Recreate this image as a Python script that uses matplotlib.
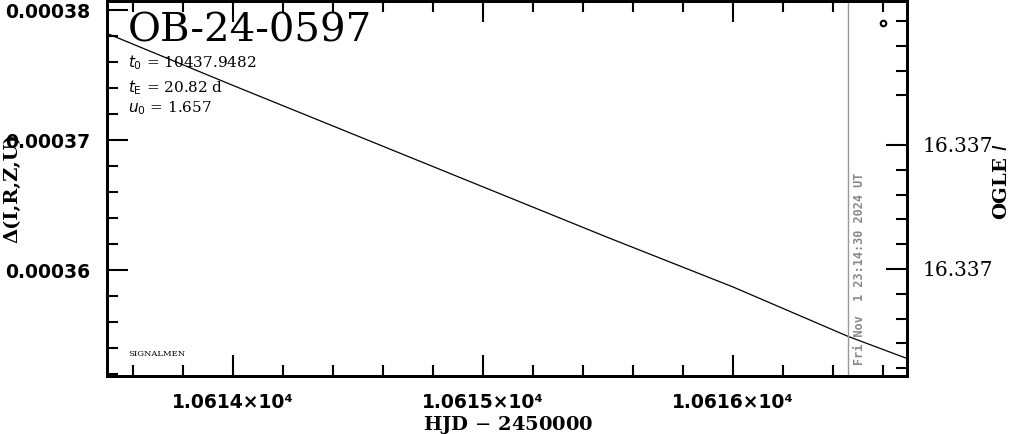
import matplotlib
matplotlib.use("Agg")
import matplotlib.pyplot as plt

# model curve (HJD-2450000, delta flux)
hjd = [10613.496, 10614.0, 10614.5, 10615.0, 10615.5, 10616.0, 10616.46, 10616.696]
dflux = [0.0003782, 0.0003742, 0.0003703, 0.0003664, 0.0003625, 0.0003587, 0.0003549, 0.0003532]

# the single data point
pt_hjd = [10616.6]
pt_flux = [0.000379]

now_hjd = 10616.46
now_label = "Fri Nov  1 23:14:30 2024 UT"

xticks = [10614, 10615, 10616]
xtick_labels = ["1.0614×10⁴", "1.0615×10⁴", "1.0616×10⁴"]
yticks = [0.00036, 0.00037, 0.00038]
ytick_labels = ["0.00036", "0.00037", "0.00038"]

# right magnitude axis
mag_ticks = [16.3370, 16.3371]
mag_labels = ["16.337", "16.337"]
mag_minor = [16.33690, 16.33692, 16.33694, 16.33696, 16.33700, 16.33702, 16.33704,
             16.33706, 16.33708, 16.33710, 16.33712, 16.33714, 16.33716, 16.33718]

event = "OB-24-0597"
params = [r"$t_0$ = 10437.9482", r"$t_{\rm E}$ = 20.82 d", r"$u_0$ = 1.657"]
param_y = [0.835, 0.770, 0.715]

serif = "DejaVu Serif"
tickfont = dict(family="DejaVu Sans", weight="bold", size=13.5)

fig = plt.figure(figsize=(10.11, 4.34), dpi=100)
ax = fig.add_axes([0.1058, 0.1336, 0.7913, 0.864])

ax.plot(hjd, dflux, color="black", lw=0.9)
ax.plot(pt_hjd, pt_flux, "o", mfc="none", mec="black", ms=4, mew=1.5)
ax.axvline(now_hjd, color="#999999", lw=1)
ax.text(now_hjd + 0.02, 0.00035269, now_label, rotation=90, ha="left", va="bottom",
        color="#888888", fontsize=8.5, fontweight="bold", family="DejaVu Sans Mono")

ax.set_xlim(10613.496, 10616.696)
ax.set_ylim(0.00035185, 0.00038069)

ax.set_xticks(xticks)
ax.set_xticklabels(xtick_labels, fontdict=tickfont)
ax.set_xticks([10613.6 + 0.2 * i for i in range(16) if i % 5 != 2], minor=True)
ax.set_yticks(yticks)
ax.set_yticklabels(ytick_labels, fontdict=tickfont)
ax.set_yticks([0.000352 + 0.000002 * i for i in range(15) if i % 5 != 4], minor=True)

ax.tick_params(which="both", direction="in", top=True, right=False, width=1.5)
ax.tick_params(which="major", length=15, pad=12)
ax.tick_params(which="minor", length=8)
for s in ax.spines.values():
    s.set_linewidth(2)

ax2 = ax.twinx()
ax2.set_ylim(16.3371863, 16.336884)
ax2.set_yticks(mag_ticks)
ax2.set_yticklabels(mag_labels, fontdict=dict(family=serif, size=14.5))
ax2.set_yticks(mag_minor, minor=True)
ax2.tick_params(which="both", direction="in", width=1.5)
ax2.tick_params(which="major", length=15, pad=11)
ax2.tick_params(which="minor", length=8)
for s in ax2.spines.values():
    s.set_linewidth(2)

fig.text(508 / 1011, 1 - 425 / 434, "HJD $-$ 2450000", family=serif, fontsize=14,
         fontweight="bold", ha="center", va="center")
fig.text(12 / 1011, 1 - 188 / 434, "Δ(I,R,Z,U)", family=serif, fontsize=14,
         fontweight="bold", rotation=90, ha="center", va="center")
fig.text(1002 / 1011, 1 - 182 / 434, "OGLE $I$", family=serif, fontsize=14,
         fontweight="bold", rotation=90, ha="center", va="center")

ax.text(0.026, 0.92, event, transform=ax.transAxes, family=serif, fontsize=29,
        va="center", ha="left")
for p, yy in zip(params, param_y):
    ax.text(0.026, yy, p, transform=ax.transAxes, family=serif,
            fontsize=11, va="center", ha="left")
ax.text(0.026, 0.059, "SIGNALMEN", transform=ax.transAxes, family=serif,
        fontsize=6, va="center", ha="left")

fig.savefig("out.png", dpi=100)
